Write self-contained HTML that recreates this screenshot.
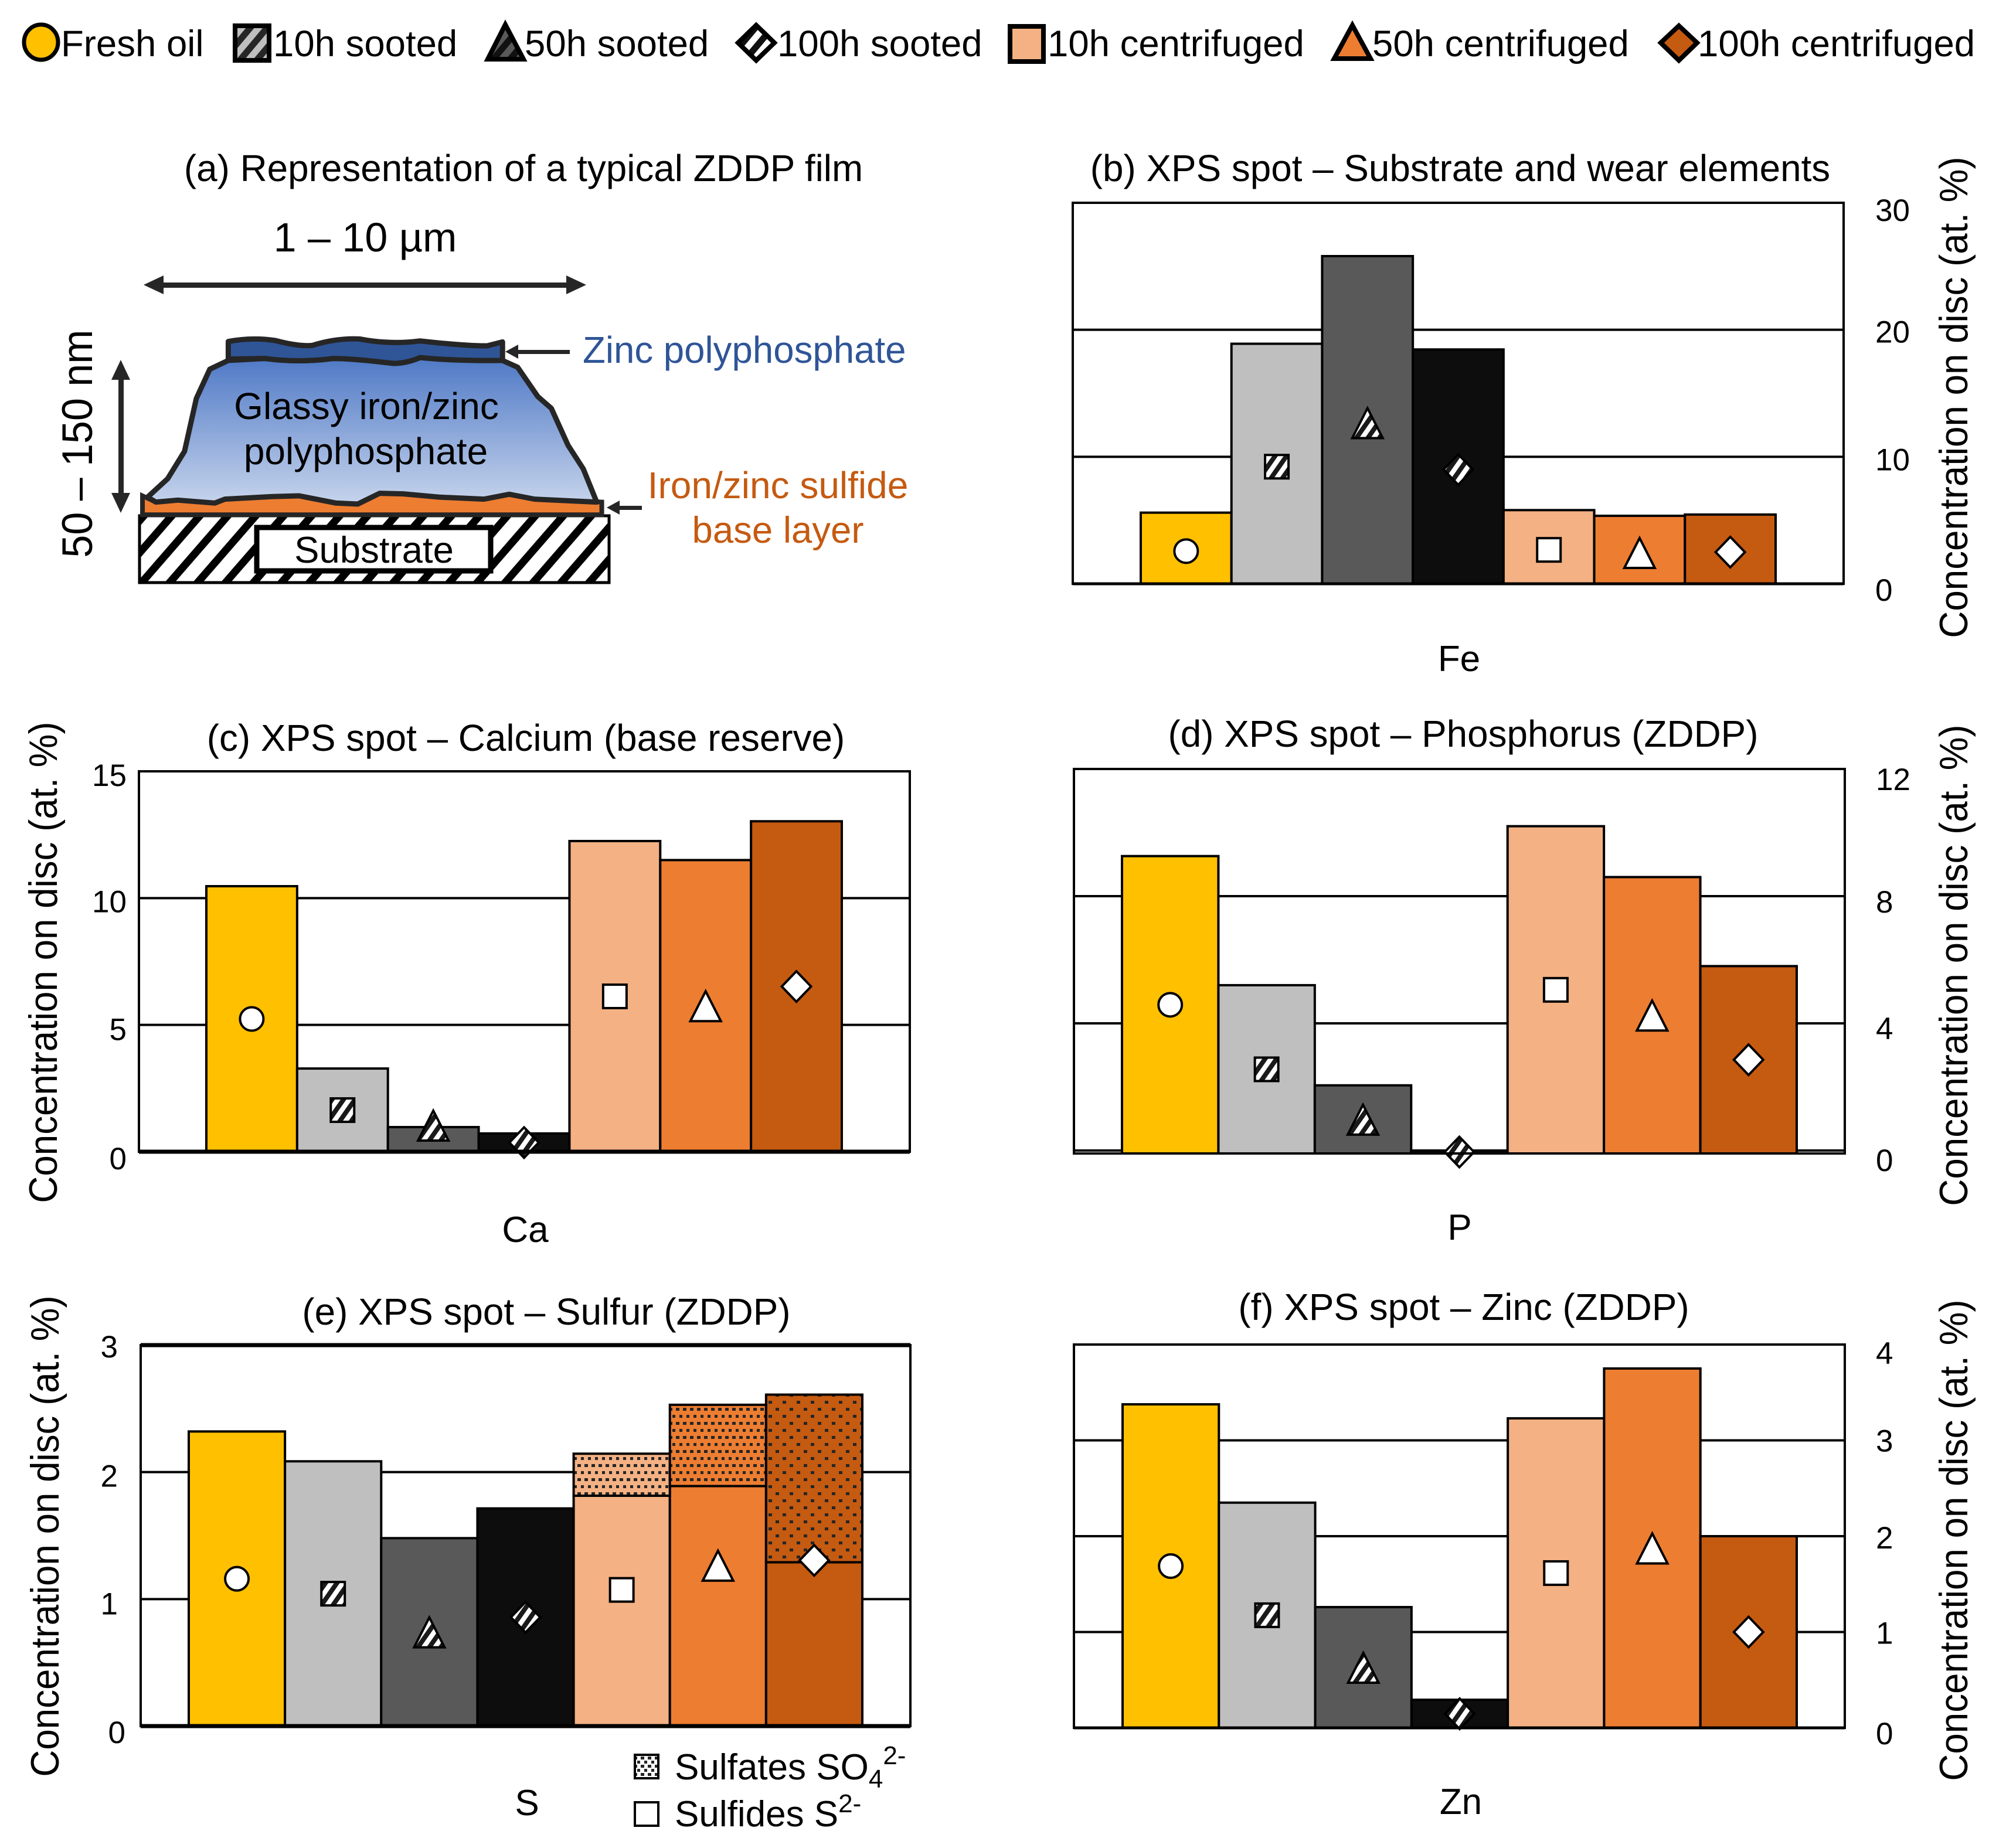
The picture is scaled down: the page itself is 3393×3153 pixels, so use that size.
<!DOCTYPE html>
<html lang="en">
<head>
<meta charset="utf-8">
<title>ZDDP film XPS results</title>
<style>
html,body{margin:0;padding:0;background:#fff;}
svg{display:block;}
text{font-family:"Liberation Sans",Arial,sans-serif;fill:#000;}
</style>
</head>
<body>
<svg id="figure" xmlns="http://www.w3.org/2000/svg" width="3393" height="3153" viewBox="0 0 3393 3153">
<defs>
  <pattern id="h-legend10" width="22" height="22" patternUnits="userSpaceOnUse" patternTransform="rotate(40)"><rect width="22" height="22" fill="#bfbfbf"/><rect width="11" height="22" fill="#262626"/></pattern>
  <pattern id="h-legend50" width="22" height="22" patternUnits="userSpaceOnUse" patternTransform="rotate(40)"><rect width="22" height="22" fill="#595959"/><rect width="11" height="22" fill="#111"/></pattern>
  <pattern id="h-legend100" width="22" height="22" patternUnits="userSpaceOnUse" patternTransform="rotate(40)"><rect width="22" height="22" fill="#fff"/><rect width="11" height="22" fill="#111"/></pattern>
  <pattern id="h-marker" width="16" height="16" patternUnits="userSpaceOnUse" patternTransform="rotate(35)"><rect width="16" height="16" fill="#fff"/><rect width="8" height="16" fill="#1a1a1a"/></pattern>
  <pattern id="h-substrate" width="36" height="36" patternUnits="userSpaceOnUse" patternTransform="rotate(41)"><rect width="36" height="36" fill="#fff"/><rect width="13" height="36" fill="#000"/></pattern>
  <pattern id="d-10h" width="12" height="24" patternUnits="userSpaceOnUse"><rect width="12" height="24" fill="#f4b183"/><rect x="1" y="2" width="6" height="5" fill="#262626"/><rect x="7" y="14" width="6" height="5" fill="#262626"/></pattern>
  <pattern id="d-50h" width="12" height="24" patternUnits="userSpaceOnUse"><rect width="12" height="24" fill="#ed7d31"/><rect x="1" y="2" width="6" height="5" fill="#262626"/><rect x="7" y="14" width="6" height="5" fill="#262626"/></pattern>
  <pattern id="d-100h" width="24" height="24" patternUnits="userSpaceOnUse"><rect width="24" height="24" fill="#c55a11"/><rect x="3" y="2" width="6" height="5" fill="#262626"/><rect x="15" y="14" width="6" height="5" fill="#262626"/></pattern>
  <pattern id="d-legend" width="12" height="14" patternUnits="userSpaceOnUse"><rect width="12" height="14" fill="#fff"/><rect x="1" y="1" width="6" height="5" fill="#262626"/><rect x="7" y="8" width="6" height="5" fill="#262626"/></pattern>
  <linearGradient id="glassy" x1="0" y1="0" x2="0" y2="1"><stop offset="0" stop-color="#4f79c6"/><stop offset="1" stop-color="#c6d4ec"/></linearGradient>
</defs>

<g>
  <g>
    <ellipse cx="70" cy="72" rx="29" ry="30" fill="#ffc000" stroke="#000" stroke-width="7"/>
    <text x="104" y="96" font-size="63.5">Fresh oil</text>
  </g>
  <g>
    <rect x="401" y="44" width="58" height="59" fill="url(#h-legend10)" stroke="#000" stroke-width="8"/>
    <text x="466" y="96" font-size="63.5">10h sooted</text>
  </g>
  <g>
    <polygon points="862,42 893,101 832,101" fill="url(#h-legend50)" stroke="#000" stroke-width="8"/>
    <text x="895" y="96" font-size="63.5">50h sooted</text>
  </g>
  <g>
    <polygon points="1290,43 1321,73 1290,103 1259,73" fill="url(#h-legend100)" stroke="#000" stroke-width="8"/>
    <text x="1326" y="96" font-size="63.5">100h sooted</text>
  </g>
  <g>
    <rect x="1723" y="45" width="57" height="60" fill="#f4b183" stroke="#000" stroke-width="8"/>
    <text x="1787" y="96" font-size="63.5">10h centrifuged</text>
  </g>
  <g>
    <polygon points="2307,43 2338,100 2276,100" fill="#ed7d31" stroke="#000" stroke-width="8"/>
    <text x="2341" y="96" font-size="63.5">50h centrifuged</text>
  </g>
  <g>
    <polygon points="2864,44 2895,73 2864,103 2833,73" fill="#c55a11" stroke="#000" stroke-width="8"/>
    <text x="2896" y="96" font-size="63.5">100h centrifuged</text>
  </g>
</g>

<g>
  <text x="893" y="309" font-size="63.8" text-anchor="middle">(a) Representation of a typical ZDDP film</text>
  <text x="623" y="429" font-size="70" text-anchor="middle">1 – 10 µm</text>
  <g fill="#262626">
    <rect x="270" y="482" width="705" height="9"/>
    <polygon points="245,486 279,470 279,502"/>
    <polygon points="1000,486 966,470 966,502"/>
  </g>
  <text transform="translate(157,757) rotate(-90) scale(1,1.05)" font-size="70" text-anchor="middle">50 – 150 nm</text>
  <g fill="#262626">
    <rect x="202" y="640" width="9" height="210"/>
    <polygon points="206,614 190,648 222,648"/>
    <polygon points="206,875 190,841 222,841"/>
  </g>
  <rect x="238" y="880" width="801" height="114" fill="url(#h-substrate)" stroke="#000" stroke-width="5"/>
  <rect x="438" y="900" width="399" height="74" fill="#fff" stroke="#000" stroke-width="9"/>
  <text x="638" y="960" font-size="63.5" text-anchor="middle">Substrate</text>
  <g transform="translate(200,520) scale(0.574,0.3333)">
    <path vector-effect="non-scaling-stroke" d="M75,1075 L75,978 L115,1010 L180,1000 L290,1015 L320,995 L460,982 L540,978 L650,1015 L715,1020 L780,965 L850,968 L960,985 L1090,995 L1165,970 L1240,995 L1440,1010 L1440,1075 Z" fill="#ed7d31" stroke="#262626" stroke-width="8"/>
    <path vector-effect="non-scaling-stroke" d="M330,285 L275,330 L235,480 L200,750 L150,890 L90,985 L115,1010 L180,1000 L290,1015 L320,995 L460,982 L540,978 L650,1015 L715,1020 L780,965 L850,968 L960,985 L1090,995 L1165,970 L1240,995 L1425,1010 L1385,840 L1340,720 L1290,530 L1250,470 L1190,320 L1145,285 Q1000,283 900,270 Q860,300 820,300 Q700,275 640,275 Q540,298 440,275 Z" fill="url(#glassy)" stroke="#262626" stroke-width="9" stroke-linejoin="round"/>
    <path vector-effect="non-scaling-stroke" d="M330,188 Q400,165 470,183 Q540,215 580,208 Q650,170 720,175 Q810,205 900,185 Q1040,212 1100,210 L1145,190 L1145,285 Q1000,288 900,270 Q860,300 820,300 Q700,275 640,275 Q540,298 440,275 L330,278 Z" fill="#2f5597" stroke="#262626" stroke-width="9" stroke-linejoin="round"/>
  </g>
  <text x="625" y="715" font-size="64" text-anchor="middle">Glassy iron/zinc</text>
  <text x="624" y="792" font-size="64" text-anchor="middle">polyphosphate</text>
  <g fill="#262626">
    <rect x="880" y="597" width="92" height="7"/>
    <polygon points="862,600 884,588 884,612"/>
  </g>
  <g fill="#262626">
    <rect x="1050" y="863" width="45" height="7"/>
    <polygon points="1035,866 1057,854 1057,878"/>
  </g>
  <text x="994" y="619" font-size="63.6" style="fill:#2f5597">Zinc polyphosphate</text>
  <text x="1327" y="850" font-size="64" text-anchor="middle" style="fill:#c55a11">Iron/zinc sulfide</text>
  <text x="1327" y="926" font-size="63.5" text-anchor="middle" style="fill:#c55a11">base layer</text>
</g>

<g>
  <rect x="1083" y="2994" width="40" height="40" fill="url(#d-legend)" stroke="#000" stroke-width="4"/>
  <text x="1151" y="3036" font-size="62">Sulfates SO<tspan font-size="44" dy="14">4</tspan><tspan font-size="44" dy="-40">2-</tspan></text>
  <rect x="1083" y="3075" width="40" height="40" fill="#fff" stroke="#000" stroke-width="4"/>
  <text x="1151" y="3116" font-size="62">Sulfides S<tspan font-size="44" dy="-24">2-</tspan></text>
</g>

<g id="charts"></g>
</svg>

<script>
const seriesNames = ['fresh-oil', '10h-sooted', '50h-sooted', '100h-sooted', '10h-centrifuged', '50h-centrifuged', '100h-centrifuged'];
const ironValues = [5.6, 18.9, 25.8, 18.45, 5.8, 5.35, 5.45];
const calciumValues = [10.47, 3.28, 0.97, 0.72, 12.25, 11.5, 13.03];
const phosphorusValues = [9.26, 5.2, 2.05, 0, 10.2, 8.6, 5.8];
const sulfideValues = [2.32, 2.085, 1.48, 1.714, 1.814, 1.89, 1.29];
const sulfateValues = [0, 0, 0, 0, 0.331, 0.64, 1.32];
const zincValues = [3.376, 2.35, 1.26, 0.293, 3.23, 3.75, 2.0];
const ironTicks = [0, 10, 20, 30];
const calciumTicks = [0, 5, 10, 15];
const phosphorusTicks = [0, 4, 8, 12];
const sulfurTicks = [0, 1, 2, 3];
const zincTicks = [0, 1, 2, 3, 4];

const SVG_NS = 'http://www.w3.org/2000/svg';
const seriesColors = ['#ffc000', '#bfbfbf', '#595959', '#0d0d0d', '#f4b183', '#ed7d31', '#c55a11'];
const sulfatePatterns = ['', '', '', '', 'url(#d-10h)', 'url(#d-50h)', 'url(#d-100h)'];
const markerKinds = ['circle', 'square', 'triangle', 'diamond', 'square', 'triangle', 'diamond'];
const markerFills = ['#fff', 'url(#h-marker)', 'url(#h-marker)', 'url(#h-marker)', '#fff', '#fff', '#fff'];

const panels = [
  {id:'b', title:'(b) XPS spot – Substrate and wear elements', element:'Fe', values:ironValues, ticks:ironTicks,
   left:1830, right:3145, top:346, zero:996, base:996, barLeft:1946, barRight:3029, titleX:2491, titleY:309, catX:2489, catY:1145,
   tickAnchor:'start', tickX:3199, tickShift:[12,6,5,14], axisTitleX:3356, axisTitleY:678, baseWidth:5, topWidth:4, markerShift:5},
  {id:'c', title:'(c) XPS spot – Calcium (base reserve)', element:'Ca', values:calciumValues, ticks:calciumTicks,
   left:237, right:1552, top:1316, zero:1965, base:1965, barLeft:352, barRight:1436, titleX:897, titleY:1281, catX:896, catY:2119,
   tickAnchor:'end', tickX:216, tickShift:[13,9,7,8], axisTitleX:97, axisTitleY:1642, baseWidth:7, topWidth:4, nudgeIndex:2, nudgePx:-24},
  {id:'d', title:'(d) XPS spot – Phosphorus (ZDDP)', element:'P', values:phosphorusValues, ticks:phosphorusTicks,
   left:1832, right:3147, top:1312, zero:1963, base:1968, barLeft:1914, barRight:3065, titleX:2496, titleY:1274, catX:2490, catY:2115,
   tickAnchor:'start', tickX:3200, tickShift:[18,10,11,19], axisTitleX:3356, axisTitleY:1647, baseWidth:4, topWidth:4},
  {id:'e', title:'(e) XPS spot – Sulfur (ZDDP)', element:'S', values:sulfideValues, stacked:sulfateValues, ticks:sulfurTicks,
   left:240, right:1553, top:2295, zero:2945, base:2945, barLeft:322, barRight:1471, titleX:932, titleY:2260, catX:899, catY:3097,
   tickAnchor:'end', tickX:201, tickShift:[12,9,8,4], zeroTickX:214, axisTitleX:100, axisTitleY:2621, baseWidth:7, topWidth:7},
  {id:'f', title:'(f) XPS spot – Zinc (ZDDP)', element:'Zn', values:zincValues, ticks:zincTicks,
   left:1832, right:3147, top:2294, zero:2948, base:2948, barLeft:1915, barRight:3065, titleX:2497, titleY:2252, catX:2492, catY:3095,
   tickAnchor:'start', tickX:3200, tickShift:[11,3,4,2,16], axisTitleX:3356, axisTitleY:2628, baseWidth:5, topWidth:4}
];

function svgEl(tag, attrs, parent) {
  const el = document.createElementNS(SVG_NS, tag);
  for (const key in attrs) {
    el.setAttribute(key, attrs[key]);
  }
  parent.appendChild(el);
  return el;
}

function drawPanel(p, root) {
  const maxTick = p.ticks[p.ticks.length - 1];
  const yScale = function (v) { return p.zero - (v / maxTick) * (p.zero - p.top); };
  const barWidth = (p.barRight - p.barLeft) / p.values.length;
  const xScale = function (i) { return p.barLeft + i * barWidth; };

  const group = svgEl('g', {}, root);
  
  

  const title = svgEl('text', {x: p.titleX, y: p.titleY, 'font-size': 63.8, 'text-anchor': 'middle'}, group);
  
  
  title.textContent = p.title;

  const frame = svgEl('rect', {x: p.left, y: p.top, width: p.right - p.left, height: p.base - p.top, fill: '#fff', stroke: '#000', 'stroke-width': 4}, group);
  
  

  p.ticks.forEach(function (tick, t) {
    const y = yScale(tick);
    const isEnd = t === p.ticks.length - 1;
    const grid = svgEl('line', {x1: p.left, x2: p.right, y1: y, y2: y, stroke: '#000', 'stroke-width': isEnd ? p.topWidth : 4}, group);
    
    

    const tickX = (tick === 0 && p.zeroTickX) ? p.zeroTickX : p.tickX;
    const label = svgEl('text', {x: tickX, y: y + p.tickShift[t] + 17, 'font-size': 53, 'text-anchor': p.tickAnchor}, group);
    
    
    label.textContent = String(tick);
  });

  p.values.forEach(function (value, i) {
    const x = xScale(i);
    const lowerTop = Math.min(yScale(value), p.base);
    const bar = svgEl('rect', {x: x, y: lowerTop, width: barWidth, height: p.base - lowerTop, fill: seriesColors[i], stroke: '#000', 'stroke-width': 4}, group);
    
    
  });

  let totals = p.values.slice();
  if (p.stacked) {
    p.stacked.forEach(function (extra, i) {
      totals[i] = p.values[i] + extra;
      if (extra > 0) {
        const topY = yScale(totals[i]);
        const cap = svgEl('rect', {x: xScale(i), y: topY, width: barWidth, height: yScale(p.values[i]) - topY, fill: sulfatePatterns[i], stroke: '#000', 'stroke-width': 4}, group);
        
        
      }
    });
  }

  totals.forEach(function (total, i) {
    const cx = xScale(i) + barWidth / 2;
    let cy = (yScale(total) + p.base) / 2 + (p.markerShift || 0);
    if (p.nudgeIndex === i) {
      cy += p.nudgePx;
    }
    const kind = markerKinds[i];
    const style = {fill: markerFills[i], stroke: '#000', 'stroke-width': 4, 'stroke-linejoin': 'miter'};
    let mark;
    if (kind === 'circle') {
      mark = svgEl('ellipse', Object.assign({cx: cx, cy: cy, rx: 20, ry: 20}, style), group);
    } else if (kind === 'square') {
      mark = svgEl('rect', Object.assign({x: cx - 20, y: cy - 20, width: 40, height: 40}, style), group);
    } else if (kind === 'triangle') {
      mark = svgEl('polygon', Object.assign({points: cx + ',' + (cy - 25) + ' ' + (cx + 26) + ',' + (cy + 26) + ' ' + (cx - 26) + ',' + (cy + 26)}, style), group);
    } else {
      mark = svgEl('polygon', Object.assign({points: cx + ',' + (cy - 26) + ' ' + (cx + 25) + ',' + cy + ' ' + cx + ',' + (cy + 26) + ' ' + (cx - 25) + ',' + cy}, style), group);
    }
    
    
  });

  const baseLine = svgEl('line', {x1: p.left, x2: p.right, y1: p.base, y2: p.base, stroke: '#000', 'stroke-width': p.baseWidth}, group);
  
  

  const cat = svgEl('text', {x: p.catX, y: p.catY, 'font-size': 62, 'text-anchor': 'middle'}, group);
  
  
  cat.textContent = p.element;

  const axisTitle = svgEl('text', {transform: 'translate(' + p.axisTitleX + ',' + p.axisTitleY + ') rotate(-90) scale(1,1.07)', 'font-size': 63.7, 'text-anchor': 'middle'}, group);
  
  
  axisTitle.textContent = 'Concentration on disc (at. %)';
}

const chartRoot = document.getElementById('charts');
panels.forEach(function (panel) { drawPanel(panel, chartRoot); });
</script>
</body>
</html>
